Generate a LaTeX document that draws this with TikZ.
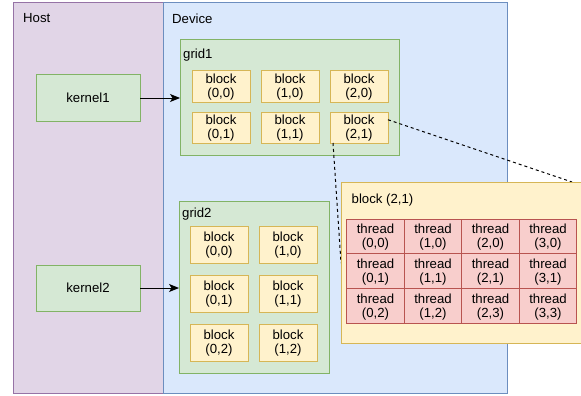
\documentclass[tikz,border=0pt]{standalone}
\usepackage{fontspec}
\setmainfont{Liberation Sans}
\usetikzlibrary{arrows.meta,calc}
\definecolor{hostfill}{HTML}{E1D5E7}
\definecolor{hoststroke}{HTML}{9673A6}
\definecolor{devfill}{HTML}{DAE8FC}
\definecolor{devstroke}{HTML}{6C8EBF}
\definecolor{grnfill}{HTML}{D5E8D4}
\definecolor{grnstroke}{HTML}{82B366}
\definecolor{yelfill}{HTML}{FFF2CC}
\definecolor{yelstroke}{HTML}{D6B656}
\definecolor{redfill}{HTML}{F8CECC}
\definecolor{redstroke}{HTML}{B85450}
\tikzset{
  box/.style={draw, line width=1pt, inner sep=0pt, outer sep=0pt, align=center,
    font=\fontsize{13.2}{14}\selectfont},
  hostbox/.style={box, fill=hostfill, draw=hoststroke},
  devbox/.style={box, fill=devfill, draw=devstroke},
  grnbox/.style={box, fill=grnfill, draw=grnstroke},
  blockbox/.style={box, fill=yelfill, draw=yelstroke, minimum width=58pt, text depth=1pt},
  threadbox/.style={box, fill=redfill, draw=redstroke, minimum width=57.5pt, minimum height=34.7pt, text depth=1pt},
  lbl/.style={anchor=west, inner sep=0pt, font=\fontsize{13.2}{14}\selectfont},
  arr/.style={line width=1pt, -{Stealth[length=10pt,width=8pt,inset=2.5pt]}},
  dashline/.style={line width=1pt, dash pattern=on 3pt off 3pt}
}
\begin{document}
\begin{tikzpicture}[x=1pt,y=-1pt]
\useasboundingbox (0,0) rectangle (581,396);
% Host and Device
\node[hostbox, minimum width=150pt, minimum height=390pt] (host) at (88,198) {};
\node[devbox, minimum width=344pt, minimum height=390pt] (dev) at (335,198) {};
\node[lbl] (hostlbl) at (23,18.5) {Host};
\node[lbl] (devlbl) at (172,18.5) {Device};
% kernels
\node[grnbox, minimum width=104pt, minimum height=46pt] (k1) at (88,98) {kernel1};
\node[grnbox, minimum width=104pt, minimum height=46pt] (k2) at (88,288) {kernel2};
% grid1
\node[grnbox, minimum width=219pt, minimum height=115pt] (g1) at (289.5,97.5) {};
\node[lbl] (g1lbl) at (183,55.5) {grid1};
\node[blockbox, minimum height=31pt] (g1b00) at (221,86.5) {block\\(0,0)};
\node[blockbox, minimum height=31pt] (g1b10) at (290,86.5) {block\\(1,0)};
\node[blockbox, minimum height=31pt] (g1b20) at (359,86.5) {block\\(2,0)};
\node[blockbox, minimum height=31pt] (g1b01) at (221,127.5) {block\\(0,1)};
\node[blockbox, minimum height=31pt] (g1b11) at (290,127.5) {block\\(1,1)};
\node[blockbox, minimum height=31pt] (g1b21) at (359,127.5) {block\\(2,1)};
% grid2
\node[grnbox, minimum width=150pt, minimum height=172pt] (g2) at (254,287) {};
\node[lbl] (g2lbl) at (182,214.5) {grid2};
\node[blockbox, minimum height=37pt] (g2b00) at (219,244.5) {block\\(0,0)};
\node[blockbox, minimum height=37pt] (g2b10) at (288,244.5) {block\\(1,0)};
\node[blockbox, minimum height=37pt] (g2b01) at (219,293.5) {block\\(0,1)};
\node[blockbox, minimum height=37pt] (g2b11) at (288,293.5) {block\\(1,1)};
\node[blockbox, minimum height=37pt] (g2b02) at (219,342.5) {block\\(0,2)};
\node[blockbox, minimum height=37pt] (g2b12) at (288,342.5) {block\\(1,2)};
% arrows
\draw[arr] (k1.east) -- (g1.west |- k1.east);
\draw[arr] (k2.east) -- (g2.west |- k2.east);
% dashed connectors
\draw[dashline] (g1b21.15) -- (572,182) coordinate (bbtop);
\draw[dashline] ($(g1b21.south west)+(3,0)$) -- (341,263) coordinate (bbleft);
% expanded block
\node[box, fill=yelfill, draw=yelstroke, minimum width=242pt, minimum height=161pt] (bb) at (462,262.5) {};
\node[lbl] (bblbl) at (351.5,200) {block (2,1)};
% threads
\node[threadbox] (t00) at (375.5,236.5) {thread\\(0,0)};
\node[threadbox] (t10) at (433,236.5) {thread\\(1,0)};
\node[threadbox] (t20) at (490.5,236.5) {thread\\(2,0)};
\node[threadbox] (t30) at (548,236.5) {thread\\(3,0)};
\node[threadbox] (t01) at (375.5,271.2) {thread\\(0,1)};
\node[threadbox] (t11) at (433,271.2) {thread\\(1,1)};
\node[threadbox] (t21) at (490.5,271.2) {thread\\(2,1)};
\node[threadbox] (t31) at (548,271.2) {thread\\(3,1)};
\node[threadbox] (t02) at (375.5,305.9) {thread\\(0,2)};
\node[threadbox] (t12) at (433,305.9) {thread\\(1,2)};
\node[threadbox] (t22) at (490.5,305.9) {thread\\(2,3)};
\node[threadbox] (t32) at (548,305.9) {thread\\(3,3)};
\end{tikzpicture}
\end{document}
